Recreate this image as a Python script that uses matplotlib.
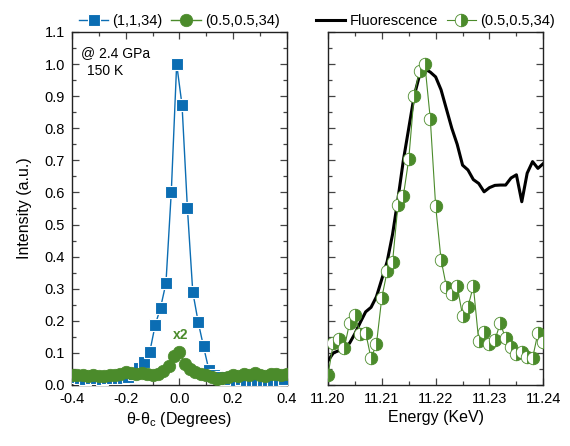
import numpy as np
import matplotlib
matplotlib.use("Agg")
import matplotlib.pyplot as plt
from matplotlib.ticker import MultipleLocator

plt.rcParams['font.family'] = ['Liberation Sans', 'DejaVu Sans']
plt.rcParams['mathtext.fontset'] = 'custom'
plt.rcParams['mathtext.rm'] = 'Liberation Sans'

BLUE = '#0b6db3'
GREEN = '#4b8b2b'

# ---- left panel data ----
theta_blue = np.linspace(-0.39, 0.39, 40)
int_blue = [0.025, 0.022, 0.020, 0.022, 0.021, 0.020, 0.022, 0.021, 0.022, 0.023,
            0.025, 0.035, 0.053, 0.073, 0.104, 0.187, 0.241, 0.317, 0.602, 1.000,
            0.872, 0.551, 0.290, 0.197, 0.120, 0.047, 0.032, 0.025, 0.020, 0.018,
            0.017, 0.018, 0.016, 0.017, 0.015, 0.017, 0.016, 0.016, 0.017, 0.018]

theta_green = np.linspace(-0.40, 0.40, 41)
int_green = [0.030, 0.031, 0.030, 0.029, 0.030, 0.028, 0.029, 0.030, 0.032, 0.035,
             0.040, 0.036, 0.033, 0.037, 0.034, 0.032, 0.033, 0.045, 0.060, 0.090,
             0.103, 0.065, 0.050, 0.042, 0.035, 0.030, 0.024, 0.020, 0.021, 0.026,
             0.030, 0.029, 0.033, 0.030, 0.036, 0.030, 0.028, 0.033, 0.035, 0.031,
             0.033]

# ---- right panel data ----
energy = np.linspace(11.200, 11.240, 41)
fluor = [0.075, 0.100, 0.107, 0.115, 0.130, 0.160, 0.195, 0.228, 0.242, 0.275,
         0.330, 0.385, 0.470, 0.580, 0.700, 0.800, 0.900, 0.965, 0.985, 0.975,
         0.960, 0.920, 0.860, 0.800, 0.750, 0.685, 0.670, 0.640, 0.628, 0.602,
         0.615, 0.622, 0.623, 0.623, 0.645, 0.655, 0.571, 0.660, 0.696, 0.675,
         0.690]
half_int = [0.031, 0.130, 0.142, 0.114, 0.192, 0.218, 0.159, 0.163, 0.083, 0.127,
            0.272, 0.355, 0.384, 0.561, 0.589, 0.703, 0.902, 0.979, 0.999, 0.830,
            0.558, 0.391, 0.306, 0.282, 0.308, 0.216, 0.244, 0.308, 0.137, 0.166,
            0.128, 0.140, 0.192, 0.145, 0.117, 0.097, 0.104, 0.086, 0.083, 0.163,
            0.135]

fig = plt.figure(figsize=(5.70, 4.46), dpi=100)
axL = fig.add_axes([0.1263, 0.1368, 0.3767, 0.7915])
axR = fig.add_axes([0.5754, 0.1368, 0.3778, 0.7915])

axL.plot(theta_blue, int_blue, '-', color=BLUE, lw=1.0, marker='s', ms=8,
         mfc=BLUE, mec='white', mew=0.8, label='(1,1,34)', zorder=3)
axL.plot(theta_green, int_green, '-', color=GREEN, lw=1.0, marker='o', ms=9,
         mfc=GREEN, mec=GREEN, mew=0.5, label='(0.5,0.5,34)', zorder=4)
axL.text(0.003, 0.155, 'x2', color=GREEN, fontsize=10, fontweight='bold',
         ha='center', va='center')
axL.text(-0.365, 1.035, '@ 2.4 GPa', fontsize=10, ha='left', va='center')
axL.text(-0.278, 0.978, '150 K', fontsize=10, ha='center', va='center')

axL.set_xlim(-0.4, 0.4)
axL.set_ylim(0.0, 1.1)
axL.xaxis.set_minor_locator(MultipleLocator(0.1))
axL.yaxis.set_minor_locator(MultipleLocator(0.05))
axL.set_xticks([-0.4, -0.2, 0.0, 0.2, 0.4])
axL.set_xticklabels(['-0.4', '-0.2', '0.0', '0.2', '0.4'])
yt = np.round(np.arange(0, 1.11, 0.1), 1)
axL.set_yticks(yt)
axL.set_yticklabels(['%.1f' % v for v in yt])
axL.set_xlabel('θ-θ$_{\\rm c}$ (Degrees)', fontsize=11.5, labelpad=3)
axL.set_ylabel('Intensity (a.u.)', fontsize=11.5, labelpad=9)
axL.legend(loc='lower center', bbox_to_anchor=(0.5, 1.0), ncol=2, frameon=False,
           fontsize=10.5, handlelength=2.0, handletextpad=0.3, columnspacing=0.6,
           borderaxespad=0.15, borderpad=0.1)

axR.plot(energy, fluor, '-', color='black', lw=2.2, label='Fluorescence', zorder=3)
axR.plot(energy, half_int, '-', color=GREEN, lw=0.8, marker='o', ms=9,
         fillstyle='right', mfc=GREEN, markerfacecoloralt='white', mec=GREEN,
         mew=0.6, label='(0.5,0.5,34)', zorder=4)
axR.set_xlim(11.20, 11.24)
axR.set_ylim(0.0, 1.1)
axR.set_xticks([11.20, 11.21, 11.22, 11.23, 11.24])
axR.set_xticklabels(['11.20', '11.21', '11.22', '11.23', '11.24'])
axR.xaxis.set_minor_locator(MultipleLocator(0.005))
axR.yaxis.set_major_locator(MultipleLocator(0.1))
axR.yaxis.set_minor_locator(MultipleLocator(0.05))
axR.tick_params(axis='y', which='both', labelleft=False)
axR.set_xlabel('Energy (KeV)', fontsize=11.5, labelpad=3)
axR.legend(loc='lower center', bbox_to_anchor=(0.5, 1.0), ncol=2, frameon=False,
           fontsize=10.5, handlelength=2.0, handletextpad=0.3, columnspacing=0.6,
           borderaxespad=0.15, borderpad=0.1)

for ax in (axL, axR):
    ax.tick_params(which='both', direction='in', top=True, right=True,
                   labelsize=10.5, color='#444444', pad=5)
    ax.tick_params(which='major', length=5, width=0.9)
    ax.tick_params(which='minor', length=3, width=0.9)
    for s in ax.spines.values():
        s.set_linewidth(1.0)
        s.set_color('#222222')

fig.savefig('out.png', dpi=100)
